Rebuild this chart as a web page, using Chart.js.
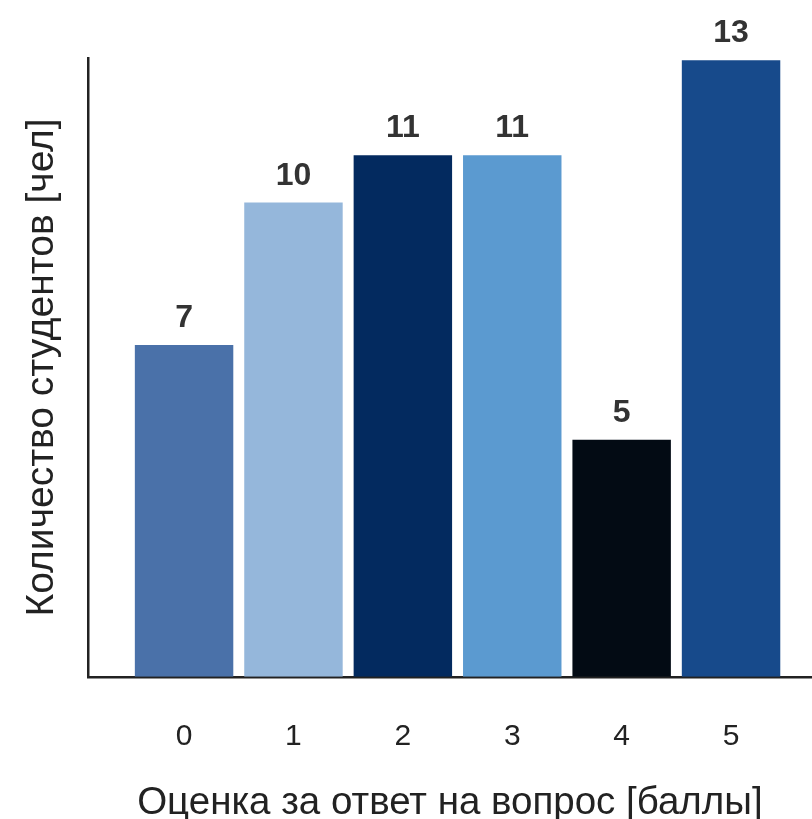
<!DOCTYPE html>
<html>
<head>
<meta charset="utf-8">
<script src="https://cdn.jsdelivr.net/npm/chart.js@4/dist/chart.umd.min.js"></script>
<style>
  html, body { margin: 0; padding: 0; background: #ffffff; }
  #wrap { width: 812px; height: 819px; }
</style>
</head>
<body>
<div id="wrap"><canvas id="c" width="812" height="819"></canvas></div>
<script>
// Grades (points) and the number of students who received each one
const grades = [0, 1, 2, 3, 4, 5];
const students = [7, 10, 11, 11, 5, 13];
const barColors = ['#4a71a9', '#95b7db', '#032a5f', '#5b9ad0', '#030b14', '#174a8b'];
const xTitle = 'Оценка за ответ на вопрос [баллы]';
const yTitle = 'Количество студентов [чел]';

const FONT = '"Liberation Sans", Arial, Helvetica, sans-serif';
const points = grades.map((g, i) => ({ x: g, y: students[i] }));

// Writes the count above each bar
const valueLabels = {
  id: 'valueLabels',
  afterDatasetsDraw(chart) {
    const ctx = chart.ctx;
    const meta = chart.getDatasetMeta(0);
    ctx.save();
    ctx.font = 'bold 32px ' + FONT;
    ctx.fillStyle = '#333333';
    ctx.textAlign = 'center';
    ctx.textBaseline = 'alphabetic';
    meta.data.forEach((bar, i) => {
      ctx.fillText(String(students[i]), bar.x, bar.y - 18);
    });
    ctx.restore();
  }
};

new Chart(document.getElementById('c'), {
  type: 'bar',
  data: {
    datasets: [{
      data: points,
      backgroundColor: barColors,
      borderWidth: 0,
      barPercentage: 0.9,
      categoryPercentage: 1.0
    }]
  },
  options: {
    responsive: false,
    animation: false,
    layout: { padding: { left: 19, right: 0, top: 58, bottom: 0 } },
    plugins: { legend: { display: false }, tooltip: { enabled: false } },
    scales: {
      x: {
        type: 'linear',
        offset: false,
        min: -0.88,
        max: 5.74,
        afterBuildTicks(scale) {
          scale.ticks = grades.map(g => ({ value: g }));
        },
        grid: { display: false, drawTicks: false },
        border: { display: true, color: '#222222', width: 2.5 },
        ticks: {
          padding: 42,
          color: '#222222',
          maxRotation: 0,
          font: { size: 30, family: FONT },
          callback: v => String(v)
        },
        title: {
          display: true,
          text: xTitle,
          color: '#222222',
          padding: { top: -17, bottom: -7 },
          font: { size: 38.5, family: FONT }
        }
      },
      y: {
        min: 0,
        max: 13.05,
        grid: { display: false, drawTicks: false },
        border: { display: true, color: '#222222', width: 2.5 },
        ticks: { display: false },
        title: {
          display: true,
          text: yTitle,
          color: '#222222',
          padding: { top: 0, bottom: 22 },
          font: { size: 39, family: FONT }
        }
      }
    }
  },
  plugins: [valueLabels]
});
</script>
</body>
</html>
